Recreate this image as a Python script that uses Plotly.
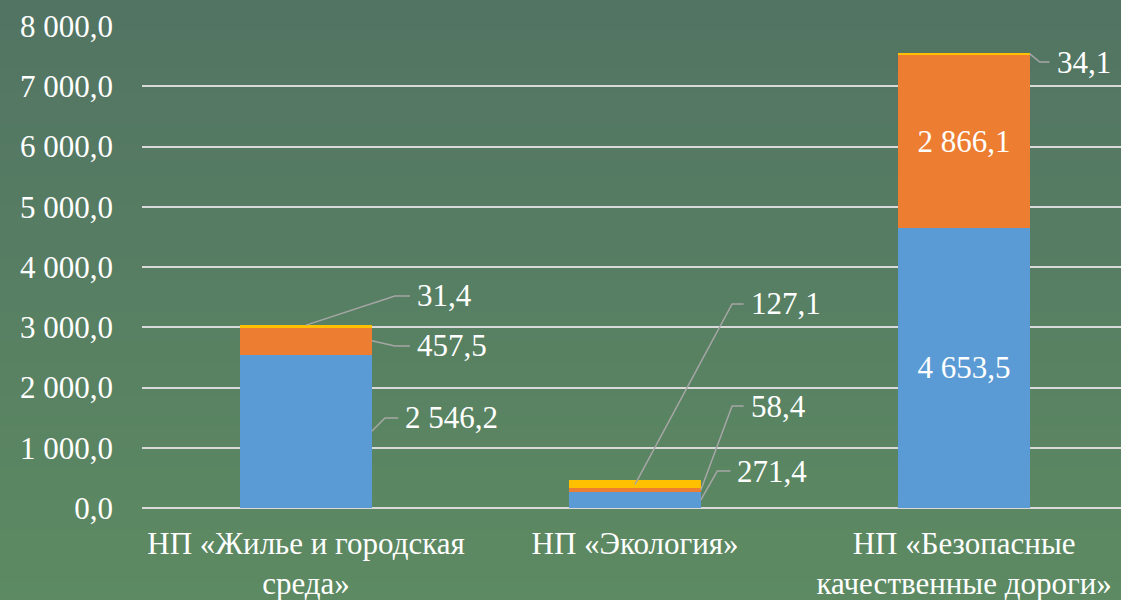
import plotly.graph_objects as go

# data
categories = ['НП «Жилье и городская<br>среда»', 'НП «Экология»', 'НП «Безопасные<br>качественные дороги»']
blue_vals = [2546.2, 271.4, 4653.5]
orange_vals = [457.5, 58.4, 2866.1]
yellow_vals = [31.4, 127.1, 34.1]

FONT = 'Times New Roman, Liberation Serif, DejaVu Serif, serif'
FS = 31
x = list(range(len(categories)))

fig = go.Figure()

# background gradient (paper coordinates)
top_c, bot_c = (82, 116, 99), (93, 139, 98)
n = 60
shapes = []
for i in range(n):
    t = i / (n - 1)
    c = tuple(round(top_c[k] + (bot_c[k] - top_c[k]) * t) for k in range(3))
    shapes.append(dict(type='rect', xref='paper', yref='paper', layer='below',
                       x0=-0.2, x1=1.2, y1=1.06 - i * 1.3 / n, y0=1.06 - (i + 1.05) * 1.3 / n,
                       fillcolor='rgb(%d,%d,%d)' % c, line=dict(width=0)))

inside_blue = ['', '', '4 653,5']
inside_orange = ['', '', '2 866,1']

fig.add_trace(go.Bar(x=x, y=blue_vals, width=0.4, marker_color='#5b9bd5', marker_line_width=0,
                     text=inside_blue, textposition='inside', insidetextanchor='middle',
                     textfont=dict(family=FONT, size=FS, color='white'), name='blue'))
fig.add_trace(go.Bar(x=x, y=orange_vals, width=0.4, marker_color='#ed7d31', marker_line_width=0,
                     text=inside_orange, textposition='inside', insidetextanchor='middle',
                     textfont=dict(family=FONT, size=FS, color='white'), name='orange'))
fig.add_trace(go.Bar(x=x, y=yellow_vals, width=0.4, marker_color='#ffc000', marker_line_width=0,
                     name='yellow'))


def fmt(v):
    s = '{:,.1f}'.format(v)
    return s.replace(',', ' ').replace('.', ',')


# leader lines: (category, segment value, anchor x offset, anchor y, elbow y, elbow dx, end dx)
leaders = []
b, o, yv = blue_vals, orange_vals, yellow_vals
leaders.append((0, yv[0], 0.0, b[0] + o[0] + yv[0], 3519, 0.27, 0.316))
leaders.append((0, o[0], 0.2, b[0] + o[0] / 2, 2689, 0.27, 0.316))
leaders.append((0, b[0], 0.2, b[0] / 2, 1494, 0.24, 0.28))
leaders.append((1, yv[1], 0.0, b[1] + o[1] + yv[1] / 2, 3386, 0.295, 0.33))
leaders.append((1, o[1], 0.2, b[1] + o[1] / 2, 1693, 0.295, 0.33))
leaders.append((1, b[1], 0.2, b[1] / 2, 614, 0.25, 0.29))
leaders.append((2, yv[2], 0.2, b[2] + o[2] + yv[2] / 2, 7402, 0.23, 0.26))

for ci, val, ax0, ay, ey, edx, endx in leaders:
    fig.add_trace(go.Scatter(x=[ci + ax0, ci + edx, ci + endx], y=[ay, ey, ey], mode='lines',
                             line=dict(color='#a6a6a6', width=1.5), hoverinfo='skip', showlegend=False))
    fig.add_annotation(x=ci + endx + 0.015, y=ey, text=fmt(val), showarrow=False, xanchor='left',
                       yanchor='middle', font=dict(family=FONT, size=FS, color='white'))

fig.update_layout(
    barmode='stack',
    width=1121, height=600,
    margin=dict(l=142, r=0, t=26, b=92),
    paper_bgcolor='rgb(88,128,98)',
    plot_bgcolor='rgba(0,0,0,0)',
    separators=', ',
    showlegend=False,
    shapes=shapes,
    font=dict(family=FONT, size=FS, color='white'),
)
fig.update_xaxes(range=[-0.4985, 2.477], tickvals=x, ticktext=categories, showgrid=False,
                 zeroline=False, showline=False, ticklabelstandoff=14,
                 tickfont=dict(family=FONT, size=FS, color='white'))
fig.update_yaxes(range=[0, 8000], dtick=1000, tickformat=',.1f', showgrid=True,
                 gridcolor='#d9d9d9', gridwidth=1.5, zeroline=True, zerolinecolor='#d9d9d9',
                 zerolinewidth=1.5, ticklabelstandoff=28,
                 tickfont=dict(family=FONT, size=FS, color='white'))

fig.write_html('out.html', config={'displayModeBar': False},
               post_script="document.body.style.margin='0';")
